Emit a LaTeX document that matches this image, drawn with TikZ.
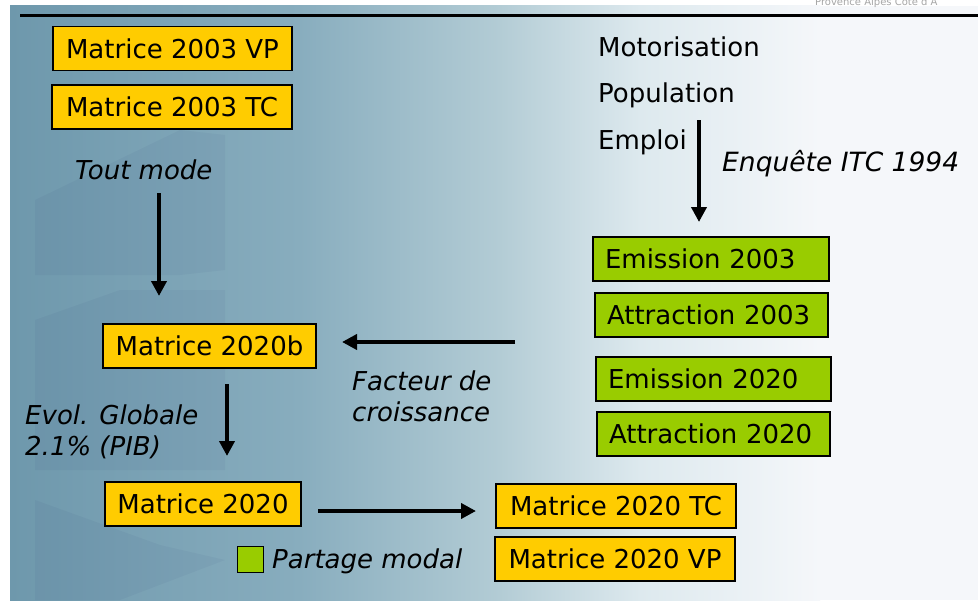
\documentclass[tikz,border=0pt]{standalone}
\usepackage{fontspec}
\setmainfont{DejaVu Sans}
\usetikzlibrary{arrows.meta}
\definecolor{ybox}{HTML}{FFCC00}
\definecolor{gbox}{HTML}{99CC00}
\definecolor{bgA}{HTML}{6E98AC}
\definecolor{bgB}{HTML}{88ADBE}
\definecolor{bgC}{HTML}{B3CCD5}
\definecolor{bgD}{HTML}{DDE9EE}
\definecolor{bgE}{HTML}{F5F7FA}
\begin{document}
\begin{tikzpicture}[x=1pt,y=-1pt,
  every node/.style={font=\fontsize{26}{30}\selectfont, text=black},
  yellowbox/.style={draw=black, line width=1.2pt, fill=ybox, minimum height=44pt, inner xsep=0pt, inner ysep=0pt, align=center},
  greenbox/.style={draw=black, line width=1.2pt, fill=gbox, minimum height=44pt, text width=212pt, inner xsep=12pt, inner ysep=0pt, align=left},
  freetext/.style={anchor=west, inner sep=0pt, align=left},
  itext/.style={freetext, font=\fontsize{26}{31}\selectfont\itshape},
  bigarrow/.style={line width=4.2pt, -{Triangle[length=15pt,width=15pt]}}
]
\useasboundingbox (0,0) rectangle (978,602);
% background
\fill[white] (0,0) rectangle (978,602);
\shade[left color=bgA, right color=bgB] (10,6) rectangle (300,600);
\shade[left color=bgB, right color=bgC] (299.5,6) rectangle (500,600);
\shade[left color=bgC, right color=bgD] (499.5,6) rectangle (640,600);
\shade[left color=bgD, right color=bgE] (639.5,6) rectangle (820,600);
\fill[bgE] (819.5,6) rectangle (978,600);
% faint watermark shapes
\begin{scope}[opacity=0.035]
\fill[black!70!blue] (35,200) -- (180,130) -- (225,135) -- (225,270) -- (180,275) -- (35,275) -- cycle;
\fill[black!70!blue] (35,320) -- (120,290) -- (225,290) -- (225,470) -- (35,470) -- cycle;
\fill[black!70!blue] (35,500) -- (160,545) -- (225,560) -- (120,600) -- (35,600) -- cycle;
\end{scope}
% header line and faint title
\draw[line width=3pt] (20,16) -- (978,16);
\node[anchor=west, inner sep=0pt, font=\fontsize{10}{12}\selectfont, text=gray!70] (hdr) at (815,3) {Provence Alpes Côte d'A};
% yellow boxes
\node[yellowbox, minimum width=239pt] (m03vp) at (172.5,48.5) {Matrice 2003 VP};
\node[yellowbox, minimum width=240pt] (m03tc) at (172,107) {Matrice 2003 TC};
\node[yellowbox, minimum width=213pt] (m20b) at (209.5,346) {Matrice 2020b};
\node[yellowbox, minimum width=196pt] (m20) at (203,504) {Matrice 2020};
\node[yellowbox, minimum width=240pt] (m20tc) at (616,506) {Matrice 2020 TC};
\node[yellowbox, minimum width=240pt] (m20vp) at (615,559) {Matrice 2020 VP};
% green boxes
\node[greenbox] (em03) at (711,259) {Emission 2003};
\node[greenbox, text width=209pt] (at03) at (711.5,315) {Attraction 2003};
\node[greenbox, text width=211pt] (em20) at (713.5,379) {Emission 2020};
\node[greenbox, text width=209pt] (at20) at (713.5,434) {Attraction 2020};
% free texts
\node[freetext] (moto) at (598,47) {Motorisation};
\node[freetext] (pop) at (598,95) {Population};
\node[freetext] (empl) at (598,142) {Emploi};
\node[itext, font=\fontsize{26.5}{31}\selectfont\itshape] (enq) at (722,164) {Enquête ITC 1994};
\node[itext] (tout) at (75,170) {Tout mode};
\node[itext] (fact) at (352,396) {Facteur de\\croissance};
\node[itext] (evol) at (25,432) {Evol. Globale\\2.1\% (PIB)};
% legend
\node[draw=black, line width=1pt, fill=gbox, minimum width=26pt, minimum height=26pt, inner sep=0pt] (leg) at (250.5,559) {};
\node[itext] (part) at (272,561) {Partage modal};
% arrow endpoints
\coordinate (a1s) at (159,193); \coordinate (a1e) at (159,296);
\coordinate (a2s) at (515,342); \coordinate (a2e) at (342,342);
\coordinate (a3s) at (227,384); \coordinate (a3e) at (227,456);
\coordinate (a4s) at (318,511); \coordinate (a4e) at (476,511);
\coordinate (a5s) at (699,120); \coordinate (a5e) at (699,222);
\draw[bigarrow] (a1s) -- (a1e);
\draw[bigarrow] (a2s) -- (a2e);
\draw[bigarrow] (a3s) -- (a3e);
\draw[bigarrow] (a4s) -- (a4e);
\draw[bigarrow] (a5s) -- (a5e);
\end{tikzpicture}
\end{document}
